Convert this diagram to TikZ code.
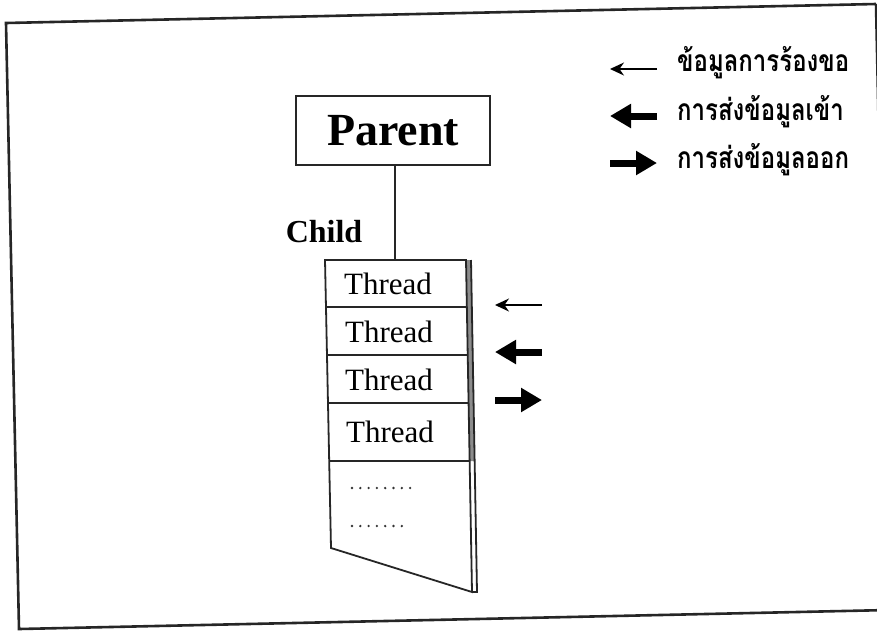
\documentclass[tikz,border=0pt]{standalone}
\usepackage{fontspec}
\setmainfont{Liberation Serif}
\newfontfamily\thaifont[Script=Thai]{Loma}
\usetikzlibrary{arrows.meta}

\tikzset{
  frameline/.style={line width=2.6pt, draw=black!85},
  boxline/.style={line width=1.8pt, draw=black!85},
  threadtext/.style={font=\fontsize{31}{32}\selectfont, inner sep=0pt},
  legendtext/.style={font=\thaifont\bfseries\fontsize{30}{32}\selectfont, anchor=west, inner sep=0pt, xscale=0.8},
  dotmark/.style={fill=black!80},
  thinarrow/.style={line width=1.6pt, -{Stealth[length=14pt,width=13pt]}},
  fatarrow/.style={line width=7pt, -{Triangle[length=21pt,width=23pt]}},
}

\begin{document}
\begin{tikzpicture}[x=1pt,y=-1pt]
  \useasboundingbox (0,0) rectangle (877,630);
  \fill[white] (0,0) rectangle (877,630);

  % slightly rotated outer frame
  \draw[frameline] (889,610) -- (19,629) -- (6,23) -- (876,4);
  \draw[frameline] (876,4) -- (889,610);

  % parent process
  \node[boxline, draw, minimum width=194pt, minimum height=69pt, inner sep=0pt,
        font=\bfseries\fontsize{46}{48}\selectfont] (parent) at (393,130.5) {Parent};

  % thread stack corners
  \coordinate (tl) at (325,260);
  \coordinate (tr) at (466,260);
  \coordinate (br) at (472,592);
  \coordinate (bl) at (331,548);

  % shaded double right edge
  \fill[black!45] (466,260) -- (471,260) -- (474.6,461) -- (469.6,461) -- cycle;
  \draw[boxline] (471,260) -- (477,592) -- (br);
  \draw[boxline] (tl) -- (tr) -- (br) -- (bl) -- cycle;

  % row dividers
  \foreach \yy in {307,355,403,461}{
    \draw[boxline] ({325+6*(\yy-260)/288},\yy) -- ({466+6*(\yy-260)/332},\yy);
  }

  \node[threadtext] (t1) at (388,284) {Thread};
  \node[threadtext] (t2) at (389,332) {Thread};
  \node[threadtext] (t3) at (389,380) {Thread};
  \node[threadtext] (t4) at (390,432) {Thread};

  % dotted continuation rows
  \foreach \k in {0,...,7}{ \fill[dotmark] ({352+8.3*\k},488) circle (1.3pt); }
  \foreach \k in {0,...,6}{ \fill[dotmark] ({352+8.3*\k},526) circle (1.3pt); }

  % link from parent to the stack
  \coordinate (stacktop) at (395,260);
  \draw[boxline] (parent.south -| stacktop) -- (stacktop);
  \node[font=\bfseries\fontsize{32}{34}\selectfont, inner sep=0pt] (child) at (324,232) {Child};

  % arrows beside the stack
  \coordinate (a1s) at (542,305); \coordinate (a1e) at (495,305);
  \coordinate (a2s) at (542,352); \coordinate (a2e) at (495,352);
  \coordinate (a3s) at (495,400); \coordinate (a3e) at (542,400);
  \draw[thinarrow] (a1s) -- (a1e);
  \draw[fatarrow] (a2s) -- (a2e);
  \draw[fatarrow] (a3s) -- (a3e);

  % legend
  \coordinate (l1s) at (657,69);  \coordinate (l1e) at (610,69);
  \coordinate (l2s) at (657,116); \coordinate (l2e) at (610,116);
  \coordinate (l3s) at (610,163); \coordinate (l3e) at (657,163);
  \draw[thinarrow] (l1s) -- (l1e);
  \draw[fatarrow] (l2s) -- (l2e);
  \draw[fatarrow] (l3s) -- (l3e);
  \node[legendtext] (lt1) at (677,63) {ข้อมูลการร้องขอ};
  \node[legendtext] (lt2) at (677,112) {การส่งข้อมูลเข้า};
  \node[legendtext] (lt3) at (677,160) {การส่งข้อมูลออก};
\end{tikzpicture}
\end{document}
